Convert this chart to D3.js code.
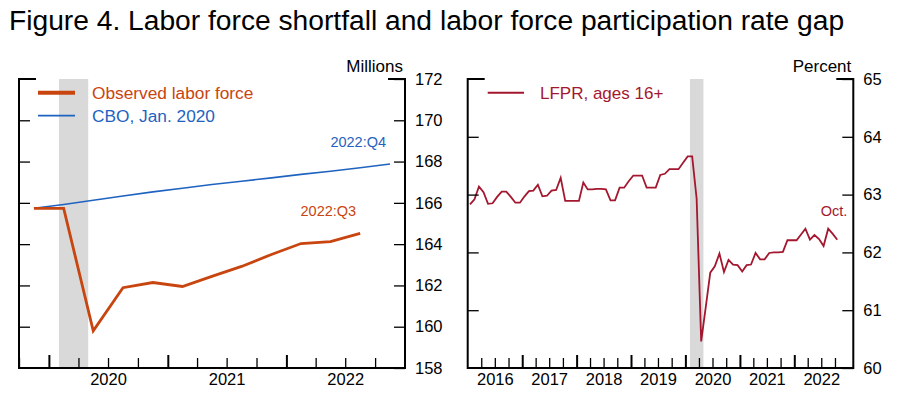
<!DOCTYPE html>
<html><head><meta charset="utf-8">
<script src="https://cdn.jsdelivr.net/npm/d3@7"></script>
<style>
html,body{margin:0;padding:0;background:#fff;}
svg{display:block;font-family:"Liberation Sans",Arial,Helvetica,sans-serif;}
</style></head>
<body><svg id="chart" width="900" height="393"></svg>
<script>
// ---------- DATA ----------
const titleText = "Figure 4. Labor force shortfall and labor force participation rate gap";
// Left panel: quarterly, millions
const quarters = ["2019:Q4","2020:Q1","2020:Q2","2020:Q3","2020:Q4","2021:Q1","2021:Q2","2021:Q3","2021:Q4","2022:Q1","2022:Q2","2022:Q3","2022:Q4"];
const observedLF = [165.73,165.73,159.80,161.89,162.14,161.95,162.44,162.92,163.50,164.03,164.12,164.52];
const cboLF = [165.74,165.92,166.13,166.33,166.53,166.71,166.89,167.05,167.21,167.38,167.53,167.70,167.88];
const leftYTicks = [158,160,162,164,166,168,170,172];
const leftYears = [2020,2021,2022];
// Right panel: monthly LFPR (percent), Jan 2016 .. Oct 2022
const lfprStart = "2016-01";
const lfpr = [
 62.83,62.92,63.14,63.04,62.84,62.85,62.96,63.05,63.05,62.96,62.86,62.86,
 62.97,63.06,63.07,63.17,62.97,62.98,63.07,63.08,63.29,62.89,62.89,62.89,
 62.89,63.21,63.09,63.09,63.10,63.10,63.09,62.90,62.90,63.12,63.12,63.23,
 63.33,63.33,63.33,63.12,63.12,63.12,63.34,63.36,63.44,63.44,63.44,63.55,
 63.66,63.66,62.93,60.46,61.05,61.65,61.76,61.98,61.66,61.87,61.79,61.78,
 61.67,61.78,61.79,61.99,61.88,61.88,61.99,62.00,62.00,62.01,62.21,62.21,
 62.21,62.31,62.41,62.22,62.30,62.23,62.11,62.41,62.32,62.22];
const rightYTicks = [60,61,62,63,64,65];
const rightYears = [2016,2017,2018,2019,2020,2021,2022];
const recession = ["2020-02-01","2020-05-01"];
const labels = {obs:"Observed labor force", cbo:"CBO, Jan. 2020", lfpr:"LFPR, ages 16+",
  unitL:"Millions", unitR:"Percent", endObs:"2022:Q3", endCbo:"2022:Q4", endLfpr:"Oct."};

// ---------- STYLE ----------
const C = {obs:"#c8450f", cbo:"#1f63c0", lfpr:"#a3172f", shade:"#d9d9d9", ink:"#000"};
const svg = d3.select("#chart");

const parseQ = q => { const [y,qq]=q.split(":Q"); const s=new Date(+y,(+qq-1)*3,1), e=new Date(+y,(+qq)*3,1); return new Date((+s + +e)/2); };
const ms = lfprStart.split("-");
const monthMid = i => { const s=new Date(+ms[0], +ms[1]-1+i, 1), e=new Date(+ms[0], +ms[1]+i, 1); return new Date((+s + +e)/2); };
const parseD = s => { const p=s.split("-"); return new Date(+p[0],+p[1]-1,+p[2]); };

svg.append("text").attr("x",9).attr("y",30).attr("font-size",28.2).attr("fill",C.ink).text(titleText);

function panel(cfg){
  const {x0,x1,y0,y1,x,y,yTicks,years} = cfg;
  const g = svg.append("g");
  g.append("rect").attr("x",x(parseD(recession[0]))).attr("y",y0)
    .attr("width",x(parseD(recession[1]))-x(parseD(recession[0]))).attr("height",y1-y0).attr("fill",C.shade);
  cfg.draw(g);
  const qt=[]; const d0=x.domain()[0], d1=x.domain()[1];
  for(let d=d3.timeMonth.ceil(d0); d<=d1; d=d3.timeMonth.offset(d,1)) if(d.getMonth()%3===0 && d.getMonth()!==0) qt.push(new Date(d));
  const ax1 = g.append("g").attr("transform",`translate(0,${y1})`)
    .call(d3.axisBottom(x).tickValues(qt).tickSize(-10).tickFormat(""));
  ax1.select(".domain").remove(); ax1.selectAll("line").attr("stroke-width",1.3);
  const yt = years.map(v=>new Date(v,0,1)).filter(d=>d>d0 && d<d1);
  const ax2 = g.append("g").attr("transform",`translate(0,${y1})`)
    .call(d3.axisBottom(x).tickValues(yt).tickSize(-13).tickFormat(""));
  ax2.select(".domain").remove(); ax2.selectAll("line").attr("stroke-width",2);
  const ax3 = g.append("g").attr("transform",`translate(0,${y1})`)
    .call(d3.axisBottom(x).tickValues(years.map(v=>new Date(v,6,1))).tickSize(0).tickPadding(5).tickFormat(d3.timeFormat("%Y")));
  ax3.select(".domain").remove();
  ax3.selectAll("text").attr("font-size",16.5).attr("font-family",null).attr("fill",C.ink);
  const ayR = g.append("g").attr("transform",`translate(${x1},0)`)
    .call(d3.axisRight(y).tickValues(yTicks).tickSize(-11).tickPadding(10).tickFormat(d3.format("d")));
  ayR.select(".domain").remove(); ayR.selectAll("line").attr("stroke-width",1.3);
  ayR.selectAll("text").attr("font-size",16.5).attr("font-family",null).attr("fill",C.ink);
  const ayL = g.append("g").attr("transform",`translate(${x0},0)`)
    .call(d3.axisLeft(y).tickValues(yTicks.slice(1,-1)).tickSize(-11).tickFormat(""));
  ayL.select(".domain").remove(); ayL.selectAll("line").attr("stroke-width",1.3);
  g.append("path").attr("d",`M${x0+17},${y0}H${x0}V${y1}H${x1}V${y0}H${x1-17}`)
    .attr("fill","none").attr("stroke",C.ink).attr("stroke-width",2);
  g.append("text").attr("x",x1-2).attr("y",71.5).attr("text-anchor","end").attr("font-size",17).text(cfg.unit);
}

// Left panel
const xL = d3.scaleTime().domain([new Date(2019,9,1), new Date(2023,0,1)]).range([19,405]);
const yL = d3.scaleLinear().domain([158,172]).range([368,79]);
panel({x0:19,x1:405,y0:79,y1:368,x:xL,y:yL,yTicks:leftYTicks,years:leftYears,unit:labels.unitL,
 draw:g=>{
  const ln = d3.line().x(d=>xL(d.t)).y(d=>yL(d.v));
  const cbo = cboLF.map((v,i)=>({t:parseQ(quarters[i]),v}));
  const obs = observedLF.map((v,i)=>({t:parseQ(quarters[i]),v}));
  g.append("path").attr("d",ln(cbo)).attr("fill","none").attr("stroke",C.cbo).attr("stroke-width",1.6);
  g.append("path").attr("d",ln(obs)).attr("fill","none").attr("stroke",C.obs).attr("stroke-width",2.8);
  const lc=cbo[cbo.length-1], lo=obs[obs.length-1];
  g.append("text").attr("x",xL(lc.t)-4).attr("y",yL(lc.v)-17).attr("text-anchor","end").attr("font-size",14.5).attr("fill",C.cbo).text(labels.endCbo);
  g.append("text").attr("x",xL(lo.t)-4).attr("y",yL(lo.v)-17).attr("text-anchor","end").attr("font-size",14.5).attr("fill",C.obs).text(labels.endObs);
  g.append("line").attr("x1",38).attr("x2",75).attr("y1",92.7).attr("y2",92.7).attr("stroke",C.obs).attr("stroke-width",4);
  g.append("text").attr("x",92).attr("y",99).attr("font-size",17.3).attr("fill",C.obs).text(labels.obs);
  g.append("line").attr("x1",38).attr("x2",75).attr("y1",115.7).attr("y2",115.7).attr("stroke",C.cbo).attr("stroke-width",1.8);
  g.append("text").attr("x",92).attr("y",122).attr("font-size",17.3).attr("fill",C.cbo).text(labels.cbo);
 }});

// Right panel
const xR = d3.scaleTime().domain([new Date(2016,0,1), new Date(2023,1,1)]).range([467.7,853.3]);
const yR = d3.scaleLinear().domain([60,65]).range([368,79]);
panel({x0:467.7,x1:853.3,y0:79,y1:368,x:xR,y:yR,yTicks:rightYTicks,years:rightYears,unit:labels.unitR,
 draw:g=>{
  const ln = d3.line().x(d=>xR(d.t)).y(d=>yR(d.v));
  const pts = lfpr.map((v,i)=>({t:monthMid(i),v}));
  g.append("path").attr("d",ln(pts)).attr("fill","none").attr("stroke",C.lfpr).attr("stroke-width",1.8);
  const lp = pts[pts.length-1];
  g.append("text").attr("x",xR(lp.t)+10).attr("y",yR(lp.v)-24).attr("text-anchor","end").attr("font-size",14.5).attr("fill",C.lfpr).text(labels.endLfpr);
  g.append("line").attr("x1",487.7).attr("x2",524).attr("y1",92.7).attr("y2",92.7).attr("stroke",C.lfpr).attr("stroke-width",2);
  g.append("text").attr("x",540).attr("y",99).attr("font-size",17).attr("fill",C.lfpr).text(labels.lfpr);
 }});
</script></body></html>
